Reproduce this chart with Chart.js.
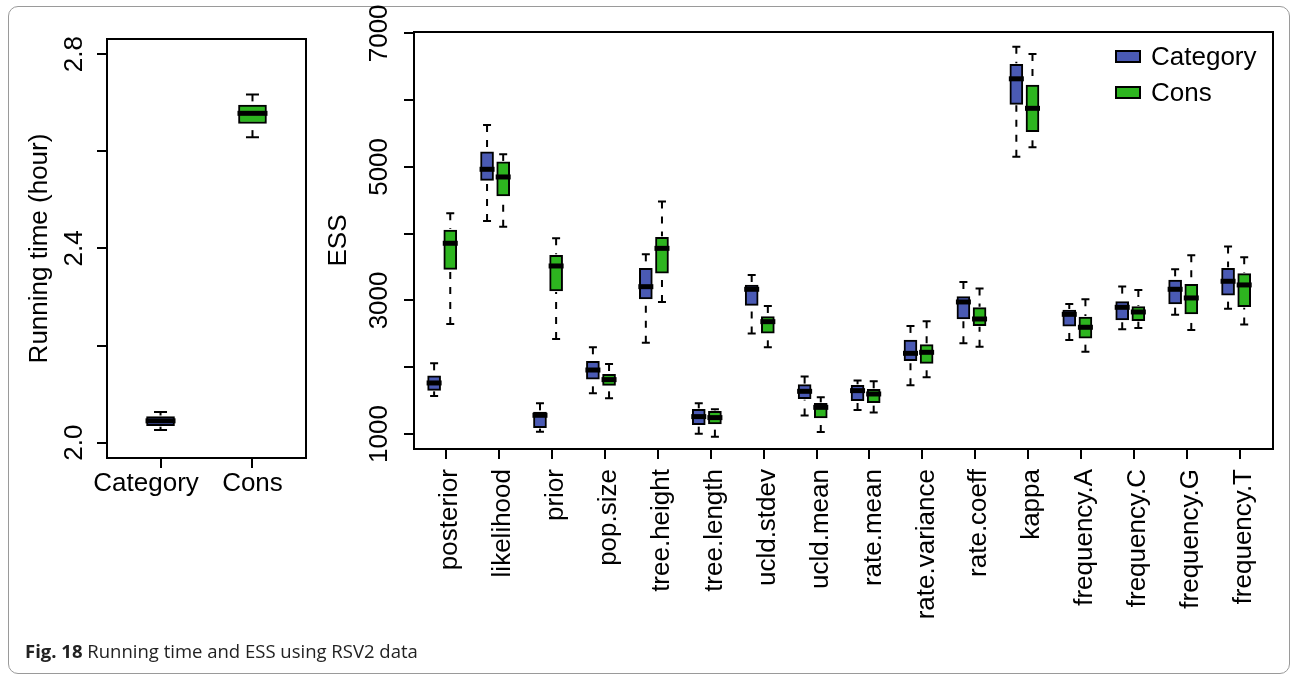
<!DOCTYPE html>
<html><head><meta charset="utf-8">
<script src="https://cdn.jsdelivr.net/npm/chart.js@4.4.0/dist/chart.umd.min.js"></script>
<style>
html,body{margin:0;padding:0;background:#fff;}
body{width:1294px;height:676px;position:relative;overflow:hidden;font-family:'Liberation Sans',Arial,sans-serif;}
#card{position:absolute;left:8px;top:6px;width:1282px;height:668px;border:1px solid #9a9a9a;border-radius:10px;box-sizing:border-box;}
#c1{position:absolute;left:0;top:0;}
#c2{position:absolute;left:300px;top:0;}
#cap{position:absolute;left:25px;top:641px;font-family:'Open Sans',sans-serif;font-size:18.5px;line-height:20px;color:#222;white-space:nowrap;}
</style></head>
<body>
<div id="card"></div>
<canvas id="c1" width="320" height="560"></canvas>
<canvas id="c2" width="994" height="640"></canvas>
<div id="cap"><b>Fig. 18</b> Running time and ESS using RSV2 data</div>
<script>
// ---------- data: running time (hour) ----------
const timeGroups = ['Category', 'Cons'];
const timeLow  = [2.026, 2.629];
const timeQ1   = [2.035, 2.657];
const timeMed  = [2.045, 2.678];
const timeQ3   = [2.054, 2.695];
const timeHigh = [2.063, 2.717];
const timeTickValues = [2.0, 2.2, 2.4, 2.6, 2.8];
const timeTickLabels = ['2.0', '', '2.4', '', '2.8'];

// ---------- data: ESS ----------
const categories = ['posterior','likelihood','prior','pop.size','tree.height','tree.length','ucld.stdev','ucld.mean','rate.mean','rate.variance','rate.coeff','kappa','frequency.A','frequency.C','frequency.G','frequency.T'];
const seriesNames = ['Category', 'Cons'];
const catLow  = [1569,4190,1035,1609,2366,1005,2503,1275,1359,1729,2358,5153,2408,2568,2787,2877];
const catQ1   = [1654,4799,1095,1819,3022,1140,2927,1529,1499,2098,2722,5937,2613,2707,2947,3077];
const catMed  = [1764,4964,1280,1958,3206,1260,3167,1639,1649,2208,2977,6319,2792,2897,3167,3287];
const catQ3   = [1869,5224,1329,2088,3481,1369,3231,1739,1729,2408,3057,6536,2857,2982,3306,3481];
const catHigh = [2058,5628,1459,2298,3690,1459,3381,1859,1799,2618,3276,6800,2947,3207,3466,3806];
const consLow  = [2647,4105,2423,1534,2977, 960,2298,1030,1320,1849,2308,5293,2233,2588,2558,2638];
const consQ1   = [3466,4565,3142,1729,3410,1150,2508,1240,1469,2058,2622,5527,2433,2697,2797,2907];
const consMed  = [3856,4849,3516,1814,3780,1245,2682,1399,1599,2223,2722,5877,2598,2827,3037,3232];
const consQ3   = [4055,5074,3676,1894,3945,1339,2757,1459,1669,2338,2892,6226,2752,2907,3241,3401];
const consHigh = [4305,5189,3930,2048,4480,1369,2917,1549,1789,2687,3177,6690,3017,3157,3676,3646];
const essTickValues = [1000, 2000, 3000, 4000, 5000, 6000, 7000];
const essTickLabels = ['1000', '', '3000', '', '5000', '', '7000'];

// ---------- styles ----------
const BLUE = '#4a5ab4', GREEN = '#2db51f';
const FONT = {family: "'Liberation Sans', Arial, sans-serif", size: 26};
Chart.defaults.font.family = FONT.family;
Chart.defaults.font.size = FONT.size;
Chart.defaults.color = '#000';

const boxExtras = {
  id: 'boxExtras',
  afterDatasetsDraw(chart, args, o) {
    const ctx = chart.ctx, ys = chart.scales.y;
    chart.data.datasets.forEach((ds, di) => {
      const meta = chart.getDatasetMeta(di);
      meta.data.forEach((bar, i) => {
        const {x, width} = bar.getProps(['x', 'width'], true);
        const pLo = ys.getPixelForValue(ds.low[i]), pHi = ys.getPixelForValue(ds.high[i]);
        const pQ1 = ys.getPixelForValue(ds.data[i].y[0]), pQ3 = ys.getPixelForValue(ds.data[i].y[1]);
        const pMed = ys.getPixelForValue(ds.med[i]);
        ctx.save();
        ctx.strokeStyle = '#000';
        ctx.lineWidth = 2;
        ctx.lineCap = 'butt';
        ctx.setLineDash(o.dash);
        ctx.beginPath(); ctx.moveTo(x, pHi); ctx.lineTo(x, pQ3 - 1); ctx.stroke();
        ctx.beginPath(); ctx.moveTo(x, pLo); ctx.lineTo(x, pQ1 + 1); ctx.stroke();
        ctx.setLineDash([]);
        ctx.beginPath();
        ctx.moveTo(x - o.cap / 2, pHi); ctx.lineTo(x + o.cap / 2, pHi);
        ctx.moveTo(x - o.cap / 2, pLo); ctx.lineTo(x + o.cap / 2, pLo);
        ctx.stroke();
        ctx.lineWidth = o.medianWidth;
        ctx.beginPath(); ctx.moveTo(x - width / 2 - 1, pMed); ctx.lineTo(x + width / 2 + 1, pMed); ctx.stroke();
        ctx.restore();
      });
    });
  }
};

const frame = {
  id: 'frame',
  afterDraw(chart) {
    const {ctx, chartArea: a} = chart;
    ctx.save();
    ctx.strokeStyle = '#000'; ctx.lineWidth = 2;
    ctx.strokeRect(a.left, a.top, a.right - a.left, a.bottom - a.top);
    ctx.restore();
  }
};

const boxLegend = {
  id: 'boxLegend',
  afterDraw(chart, args, o) {
    if (!o.items) return;
    const {ctx, chartArea: a} = chart;
    ctx.save();
    o.items.forEach((it, k) => {
      const cy = a.top + 24.5 + k * 36;
      ctx.fillStyle = it.color;
      ctx.fillRect(a.right - 157, cy - 5.5, 24, 11);
      ctx.strokeStyle = '#000'; ctx.lineWidth = 2;
      ctx.strokeRect(a.right - 157, cy - 5.5, 24, 11);
      ctx.fillStyle = '#000';
      ctx.font = FONT.size + 'px ' + FONT.family;
      ctx.textBaseline = 'middle'; ctx.textAlign = 'left';
      ctx.fillText(it.text, a.right - 122, cy + 1);
    });
    ctx.restore();
  }
};

const gridTicks = {drawOnChartArea: false, drawTicks: true, tickLength: 10, color: '#000', lineWidth: 2, offset: false};

// ---------- left chart: running time ----------
new Chart(document.getElementById('c1'), {
  type: 'bar',
  data: {
    datasets: [{
      data: timeGroups.map((g, i) => ({x: i + 1, y: [timeQ1[i], timeQ3[i]]})),
      low: timeLow, high: timeHigh, med: timeMed,
      backgroundColor: [BLUE, GREEN], borderColor: '#000', borderWidth: 2, borderSkipped: false,
      barThickness: 28, grouped: false
    }]
  },
  options: {
    responsive: false, animation: false, devicePixelRatio: 1,
    layout: {padding: {left: 0, top: 39, right: 14, bottom: 0}},
    plugins: {legend: {display: false}, tooltip: {enabled: false},
      boxExtras: {cap: 13, dash: [7, 8], medianWidth: 5}},
    scales: {
      x: {type: 'linear', min: 0.418, max: 2.582, offset: false,
        grid: gridTicks, border: {display: false},
        afterBuildTicks: s => { s.ticks = timeGroups.map((g, i) => ({value: i + 1})); },
        afterFit: s => { s.height = 102; },
        ticks: {autoSkip: false, minRotation: 0, maxRotation: 0, padding: 0,
          // the first label sits a little left of its tick in the original
          callback: v => { const k = Math.round(v) - 1; return k === 0 ? timeGroups[k] + '    ' : timeGroups[k]; }}},
      y: {type: 'linear', min: 1.9685, max: 2.831, beginAtZero: false,
        grid: gridTicks, border: {display: false},
        afterBuildTicks: s => { s.ticks = timeTickValues.map(v => ({value: v})); },
        afterFit: s => { s.width = 107; },
        title: {display: true, text: 'Running time (hour)', font: {size: 26}, padding: {top: 23.9, bottom: 0}},
        ticks: {minRotation: 90, maxRotation: 90, crossAlign: 'center', padding: 3.9, autoSkip: false,
          callback: v => { const k = timeTickValues.findIndex(t => Math.abs(t - v) < 1e-9); return k < 0 ? '' : timeTickLabels[k]; }}}
    }
  },
  plugins: [boxExtras, frame]
});

// ---------- right chart: ESS ----------
const offsets = [-0.225, 0.08];
function makeSet(k, q1, q3, lo, hi, med, color) {
  return {
    label: seriesNames[k],
    data: categories.map((c, i) => ({x: i + 1 + offsets[k], y: [q1[i], q3[i]]})),
    low: lo, high: hi, med: med,
    backgroundColor: color, borderColor: '#000', borderWidth: 2, borderSkipped: false,
    barThickness: 13, grouped: false
  };
}
new Chart(document.getElementById('c2'), {
  type: 'bar',
  data: {
    datasets: [
      makeSet(0, catQ1, catQ3, catLow, catHigh, catMed, BLUE),
      makeSet(1, consQ1, consQ3, consLow, consHigh, consMed, GREEN)
    ]
  },
  options: {
    responsive: false, animation: false, devicePixelRatio: 1,
    layout: {padding: {left: 0, top: 32, right: 21, bottom: 0}},
    plugins: {legend: {display: false}, tooltip: {enabled: false},
      boxExtras: {cap: 8, dash: [7, 8], medianWidth: 5},
      boxLegend: {items: [{text: seriesNames[0], color: BLUE}, {text: seriesNames[1], color: GREEN}]}},
    scales: {
      x: {type: 'linear', min: 0.395, max: 16.624, offset: false,
        grid: gridTicks, border: {display: false},
        afterBuildTicks: s => { s.ticks = categories.map((c, i) => ({value: i + 1})); },
        afterFit: s => { s.height = 191; },
        ticks: {autoSkip: false, minRotation: 90, maxRotation: 90, padding: 10, labelOffset: 4,
          callback: v => categories[Math.round(v) - 1]}},
      y: {type: 'linear', min: 775, max: 7020, beginAtZero: false,
        grid: gridTicks, border: {display: false},
        afterBuildTicks: s => { s.ticks = essTickValues.map(v => ({value: v})); },
        afterFit: s => { s.width = 114; },
        title: {display: true, text: 'ESS', font: {size: 26}, padding: {top: 23.4, bottom: 0}},
        ticks: {minRotation: 90, maxRotation: 90, crossAlign: 'center', padding: -4.9, autoSkip: false,
          callback: v => { const k = essTickValues.indexOf(v); return k < 0 ? '' : essTickLabels[k]; }}}
    }
  },
  plugins: [boxExtras, frame, boxLegend]
});
</script>
</body></html>
